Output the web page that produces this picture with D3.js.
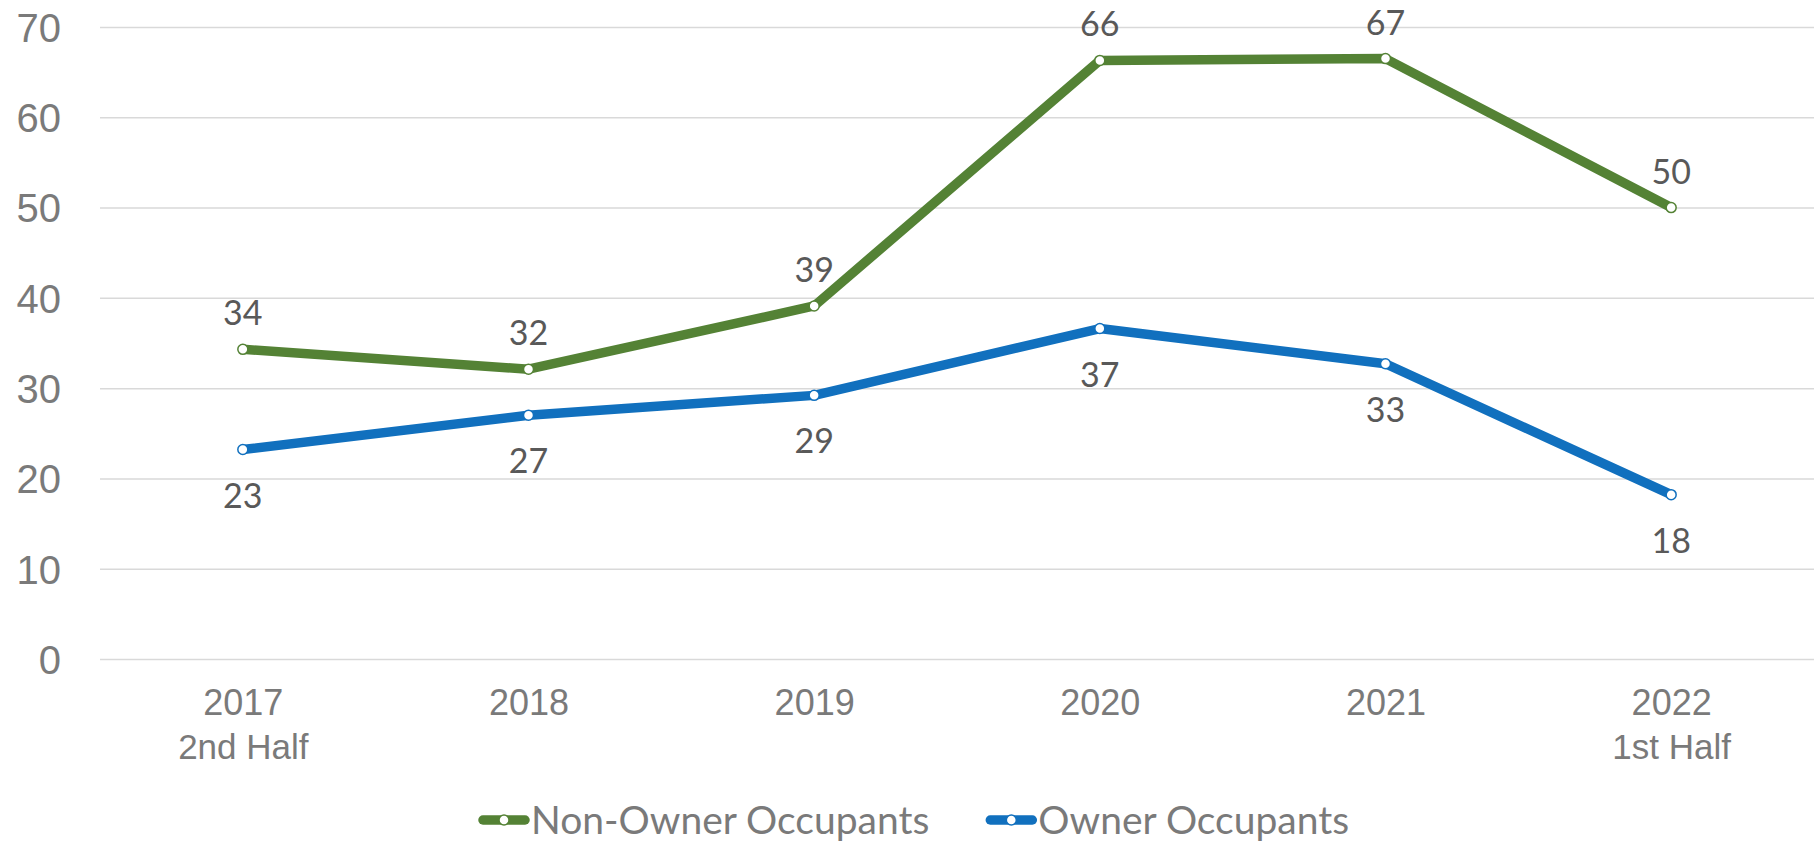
<!DOCTYPE html>
<html>
<head>
<meta charset="utf-8">
<script src="https://cdn.jsdelivr.net/npm/d3@7"></script>
<style>
  body { margin: 0; background: #fff; }
  svg { display: block; font-family: Lato, "Open Sans", sans-serif; }
</style>
</head>
<body>
<svg id="chart"></svg>
<script>
// data
const years = ["2017", "2018", "2019", "2020", "2021", "2022"];
const subLabels = ["2nd Half", "", "", "", "", "1st Half"];
const nonOwner = [34.3, 32.1, 39.1, 66.3, 66.5, 50.0];
const owner = [23.2, 27.0, 29.2, 36.6, 32.7, 18.2];
const yTicks = [0, 10, 20, 30, 40, 50, 60, 70];
const seriesNames = ["Non-Owner Occupants", "Owner Occupants"];
const seriesColors = ["#548235", "#1170be"];

const width = 1818, height = 841;
const margin = {left: 100, right: 4, top: 27, bottom: 182};
const innerW = width - margin.left - margin.right;
const innerH = height - margin.top - margin.bottom;

const svg = d3.select("#chart").attr("width", width).attr("height", height);
const chart = svg.append("g").attr("transform", `translate(${margin.left},${margin.top})`);

const x = d3.scalePoint().domain(years).range([0, innerW]).padding(0.5);
const y = d3.scaleLinear().domain([0, 70]).range([innerH, 0]);

// gridlines + y labels
const yAxis = d3.axisLeft(y).tickValues(yTicks).tickSize(-innerW).tickPadding(39);
chart.append("g").call(yAxis)
  .call(g => g.select(".domain").remove())
  .call(g => g.selectAll(".tick line").attr("stroke", "#d9d9d9").attr("stroke-width", 1.5))
  .call(g => g.selectAll(".tick text").attr("fill", "#7a7a7a").attr("font-size", 40)
      .attr("dy", "0.36em"));

// x labels (two lines)
const xAxis = d3.axisBottom(x).tickSize(0).tickPadding(0).tickFormat("");
const xg = chart.append("g").attr("transform", `translate(0,${innerH})`).call(xAxis);
xg.select(".domain").remove();
xg.selectAll(".tick").each(function(d, i) {
  const t = d3.select(this);
  t.append("text").attr("y", 56).attr("text-anchor", "middle")
    .attr("fill", "#7a7a7a").attr("font-size", 36).text(d);
  if (subLabels[i]) {
    t.append("text").attr("y", 100).attr("text-anchor", "middle")
      .attr("fill", "#7a7a7a").attr("font-size", 35).text(subLabels[i]);
  }
});

const line = d3.line().x((d, i) => x(years[i])).y(d => y(d));
const series = [nonOwner, owner];
const fmt = d3.format(".0f");

series.forEach((vals, s) => {
  chart.append("path").datum(vals)
    .attr("d", line)
    .attr("fill", "none")
    .attr("stroke", seriesColors[s])
    .attr("stroke-width", 9.5)
    .attr("stroke-linejoin", "round");
});

series.forEach((vals, s) => {
  chart.append("g").selectAll("circle").data(vals).join("circle")
    .attr("cx", (d, i) => x(years[i]))
    .attr("cy", d => y(d))
    .attr("r", 5)
    .attr("fill", "#fff")
    .attr("stroke", seriesColors[s])
    .attr("stroke-width", 1.5);

  chart.append("g").selectAll("text").data(vals).join("text")
    .attr("x", (d, i) => x(years[i]))
    .attr("y", d => s === 0 ? y(d) - 24 : y(d) + 58)
    .attr("text-anchor", "middle")
    .attr("fill", "#595959")
    .attr("font-size", 34)
    .text(d => fmt(d));
});

// legend
const legend = svg.append("g").attr("transform", "translate(0,820)");
let lx = 479;
seriesNames.forEach((name, s) => {
  const item = legend.append("g").attr("transform", `translate(${lx},0)`);
  item.append("line").attr("x1", 4).attr("x2", 46).attr("y1", 0).attr("y2", 0)
    .attr("stroke", seriesColors[s]).attr("stroke-width", 9.5).attr("stroke-linecap", "round");
  item.append("circle").attr("cx", 25).attr("r", 5).attr("fill", "#fff")
    .attr("stroke", seriesColors[s]).attr("stroke-width", 1.5);
  const t = item.append("text").attr("x", 52).attr("dy", "0.36em")
    .attr("fill", "#7a7a7a").attr("font-size", 39).text(name);
  lx += 52 + t.node().getComputedTextLength() + 57;
});
</script>
</body>
</html>
